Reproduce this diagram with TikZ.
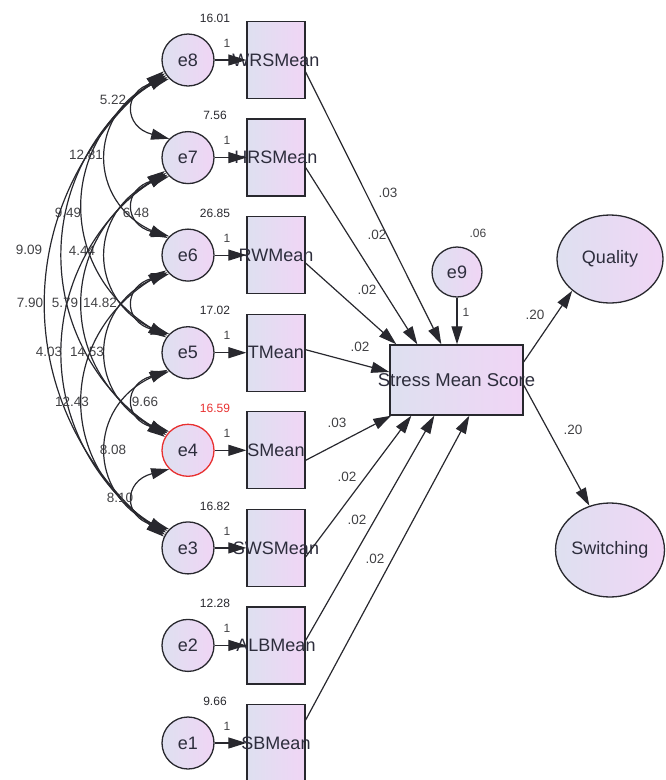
\documentclass[tikz,border=0pt]{standalone}
\usepackage{fontspec}
\setmainfont{Liberation Sans}
\usetikzlibrary{arrows.meta,shapes.geometric,calc}
\definecolor{ln}{RGB}{40,40,46}
\definecolor{txt}{RGB}{45,45,60}
\definecolor{lab}{RGB}{65,65,68}
\definecolor{fillL}{RGB}{222,224,240}
\definecolor{fillR}{RGB}{240,213,245}
\definecolor{redc}{RGB}{232,48,48}
\begin{document}
\begin{tikzpicture}[x=1pt,y=-1pt,
  errc/.style={circle, draw=ln, line width=1.3pt, minimum size=52pt, inner sep=0pt,
    left color=fillL, right color=fillR, text=txt, font=\fontsize{18}{20}\selectfont},
  obsbox/.style={rectangle, draw=ln, line width=1.3pt, minimum width=58pt, minimum height=77pt,
    inner sep=0pt, left color=fillL, right color=fillR},
  latent/.style={ellipse, draw=ln, line width=1.3pt, minimum width=106pt, minimum height=88pt,
    inner sep=0pt, left color=fillL, right color=fillR, text=txt, font=\fontsize{18}{20}\selectfont},
  boxtxt/.style={text=txt, font=\fontsize{18}{20}\selectfont, inner sep=0pt},
  bigtxt/.style={text=txt, font=\fontsize{18.5}{20}\selectfont, inner sep=0pt},
  varlab/.style={text=lab, font=\fontsize{12}{14}\selectfont, inner sep=0pt},
  onelab/.style={text=lab, font=\fontsize{12}{14}\selectfont, inner sep=0pt},
  covlab/.style={text=lab, font=\fontsize{13.5}{15}\selectfont, inner sep=0pt},
  pathlab/.style={text=lab, font=\fontsize{13.5}{15}\selectfont, inner sep=0pt},
  arr/.style={draw=ln, line width=1.2pt, -{Triangle[length=18pt,width=11pt]}},
  covarr/.style={draw=ln, line width=1.2pt,
    {Triangle[length=18pt,width=11pt]}-{Triangle[length=18pt,width=11pt]}}
]
\useasboundingbox (0,0) rectangle (665,780);

% error terms, observed variables
\foreach \i/\y/\nm/\var/\c in {8/60/WRSMean/16.01/ln, 7/157.6/HRSMean/7.56/ln,
   6/255.1/RWMean/26.85/ln, 5/352.7/TMean/17.02/ln, 4/450.3/SMean/16.59/redc,
   3/547.9/SWSMean/16.82/ln, 2/645.4/ALBMean/12.28/ln, 1/743/SBMean/9.66/ln}{
  \node[errc, draw=\c] (e\i) at (188,\y) {e\i};
  \node[obsbox, label={[boxtxt]center:\nm}] (b\i) at (276,\y) {};
  \node[varlab, text=\c] (v\i) at (215,{\y-42}) {\var};
  \node[onelab] (o\i) at (227,{\y-17}) {1};
  \draw[arr] (e\i) -- (b\i);
}

% covariances
\foreach \a/\b/\ua/\la/\h/\v/\t/\lx/\ly in {
  8/7/225/135/46/12/5.22/113/100,
  8/6/220/140/80/37/12.81/86/155,
  8/5/215/145/109/68/9.49/68/213,
  8/4/210/150/134/97/9.09/29/250,
  8/3/205/155/155/130/7.90/30/303,
  7/6/225/135/46/12/6.48/136/213,
  7/5/220/140/80/37/4.44/82/251,
  7/4/215/145/109/68/5.79/65/303,
  7/3/210/150/134/97/4.03/49/352,
  6/5/225/135/46/12/14.82/100/303,
  6/4/220/140/80/37/14.53/87/352,
  6/3/215/145/109/68/12.43/72/402,
  5/4/225/135/46/12/9.66/145/402,
  5/3/220/140/80/37/8.08/113/450,
  4/3/225/135/46/12/8.10/120/498}{
  \draw[covarr] (e\a.\ua) .. controls +(-\h,\v) and +(-\h,-\v) .. (e\b.\la);
  \node[covlab] (cv\a\b) at (\lx,\ly) {\t};
}

% dependent variable
\node[obsbox, minimum width=133pt, minimum height=70pt,
  label={[bigtxt]center:Stress Mean Score}] (S) at (456.5,380) {};
\node[errc, minimum size=50pt] (e9) at (457,272) {e9};
\node[varlab] (v9) at (478,233) {.06};
\draw[arr] (e9) -- (e9 |- S.north);
\node[onelab] (o9) at (466,312) {1};

% paths into Stress Mean Score
\draw[arr] ($(b8.east)+(0,12)$) -- ($(S.north west)+(52,0)$);
\draw[arr] ($(b7.east)+(0,10)$) -- ($(S.north west)+(28,0)$);
\draw[arr] ($(b6.east)+(0,8)$) -- ($(S.north west)+(7,0)$);
\draw[arr] ($(b5.east)+(0,-3)$) -- ($(S.west)+(0,-8)$);
\draw[arr] ($(b4.east)+(0,10)$) -- ($(S.south west)+(2,0)$);
\draw[arr] ($(b3.east)+(0,9)$) -- ($(S.south west)+(22,0)$);
\draw[arr] ($(b2.east)+(0,-5)$) -- ($(S.south west)+(45,0)$);
\draw[arr] ($(b1.east)+(0,-23)$) -- ($(S.south west)+(80,0)$);
\node[pathlab] (p8) at (388,193) {.03};
\node[pathlab] (p7) at (377,235) {.02};
\node[pathlab] (p6) at (367,290) {.02};
\node[pathlab] (p5) at (360,347) {.02};
\node[pathlab] (p4) at (337,423) {.03};
\node[pathlab] (p3) at (347,477) {.02};
\node[pathlab] (p2) at (357,520) {.02};
\node[pathlab] (p1) at (375,559) {.02};

% outcomes
\node[latent, minimum height=88pt] (Q) at (610,259) {Quality};
\node[latent, minimum height=94pt] (Sw) at (610,550) {Switching};
\draw[arr] ($(S.east)+(0,-18)$) -- (Q.220);
\draw[arr] ($(S.east)+(0,5)$) -- (Sw.115);
\node[pathlab] (pq) at (535,315) {.20};
\node[pathlab] (ps) at (573,430) {.20};
\end{tikzpicture}
\end{document}
